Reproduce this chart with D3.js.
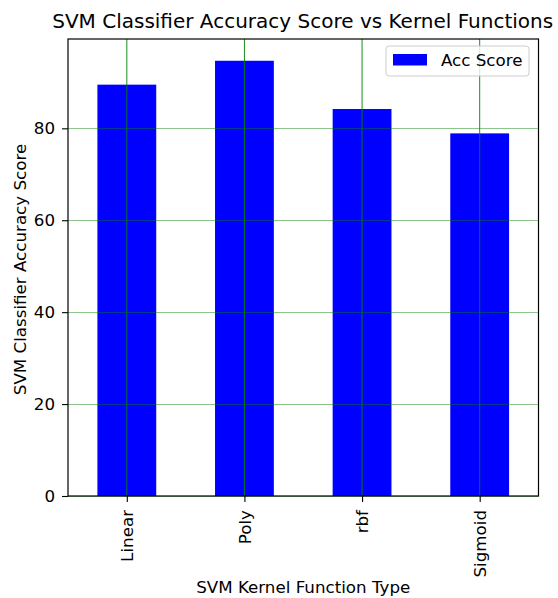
<!DOCTYPE html>
<html><head><meta charset="utf-8">
<script src="https://cdn.jsdelivr.net/npm/d3@7"></script>
<style>body{margin:0;background:#fff}svg{display:block;font-family:"DejaVu Sans",sans-serif}</style>
</head><body>
<script>
const categories = ["Linear", "Poly", "rbf", "Sigmoid"];
const accScores = [89.5, 94.7, 84.2, 78.9];
const yTicks = [0, 20, 40, 60, 80];
const titleText = "SVM Classifier Accuracy Score vs Kernel Functions";
const xLabel = "SVM Kernel Function Type";
const yLabel = "SVM Classifier Accuracy Score";
const legendLabel = "Acc Score";

const W = 558, H = 598;
const m = {left: 68, right: 538.5, top: 39, bottom: 496};
const FS = 16.7;
const svg = d3.select("body").append("svg").attr("width", W).attr("height", H);

const x = d3.scaleLinear().domain([-0.5, categories.length - 0.5]).range([m.left, m.right]);
const yMax = d3.max(accScores) * 1.05;
const y = d3.scaleLinear().domain([0, yMax]).range([m.bottom, m.top]);
const barW = 0.5;

// bars
svg.append("g").selectAll("rect").data(accScores).join("rect")
  .attr("x", (d, i) => x(i - barW / 2))
  .attr("width", x(barW) - x(0))
  .attr("y", d => y(d))
  .attr("height", d => y(0) - y(d))
  .attr("fill", "#0000ff");

// grid
const grid = svg.append("g");
grid.selectAll("line.h").data(yTicks).join("line").attr("class", "h")
  .attr("x1", m.left).attr("x2", m.right)
  .attr("y1", d => Math.round(y(d)) + 0.5).attr("y2", d => Math.round(y(d)) + 0.5)
  .attr("stroke", "#008000").attr("stroke-opacity", 0.45).attr("stroke-width", 1.1);
grid.selectAll("line.v").data(categories).join("line").attr("class", "v")
  .attr("y1", m.top).attr("y2", m.bottom)
  .attr("x1", (d, i) => x(i)).attr("x2", (d, i) => x(i))
  .attr("stroke", "#008000").attr("stroke-width", 0.9);

// axes
const yAxis = svg.append("g").attr("transform", `translate(${m.left},0)`)
  .call(d3.axisLeft(y).tickValues(yTicks).tickSize(6).tickPadding(7));
const xAxis = svg.append("g").attr("transform", `translate(0,${m.bottom})`)
  .call(d3.axisBottom(x).tickValues(categories.map((d, i) => i)).tickFormat(i => categories[i]).tickSize(6).tickPadding(4));
[yAxis, xAxis].forEach(a => {
  a.select(".domain").remove();
  a.selectAll("line").attr("stroke", "#000").attr("stroke-width", 1.1);
  a.selectAll("text").attr("font-size", FS).attr("fill", "#000").attr("font-family", "DejaVu Sans");
});
xAxis.selectAll("text")
  .attr("transform", "rotate(-90)")
  .attr("text-anchor", "end")
  .attr("dy", "0.35em")
  .attr("x", -14).attr("y", 0);

// frame
svg.append("rect").attr("x", m.left).attr("y", m.top)
  .attr("width", m.right - m.left).attr("height", m.bottom - m.top)
  .attr("fill", "none").attr("stroke", "#000").attr("stroke-width", 1.2);

// title & labels
svg.append("text").attr("x", 302.7).attr("y", 27.5)
  .attr("text-anchor", "middle").attr("font-size", 20).text(titleText);
svg.append("text").attr("x", (m.left + m.right) / 2).attr("y", 593)
  .attr("text-anchor", "middle").attr("font-size", FS).text(xLabel);
svg.append("text").attr("transform", `translate(26,${(m.top + m.bottom) / 2 + 2}) rotate(-90)`)
  .attr("text-anchor", "middle").attr("font-size", FS).text(yLabel);

// legend
const lg = svg.append("g");
lg.append("rect").attr("x", 386).attr("y", 46).attr("width", 143).attr("height", 30)
  .attr("rx", 3).attr("fill", "#fff").attr("fill-opacity", 0.8)
  .attr("stroke", "#cccccc").attr("stroke-width", 1);
lg.append("rect").attr("x", 393).attr("y", 54).attr("width", 34).attr("height", 11.5).attr("fill", "#0000ff");
lg.append("text").attr("x", 441).attr("y", 66).attr("font-size", FS).text(legendLabel);
</script>
</body></html>
